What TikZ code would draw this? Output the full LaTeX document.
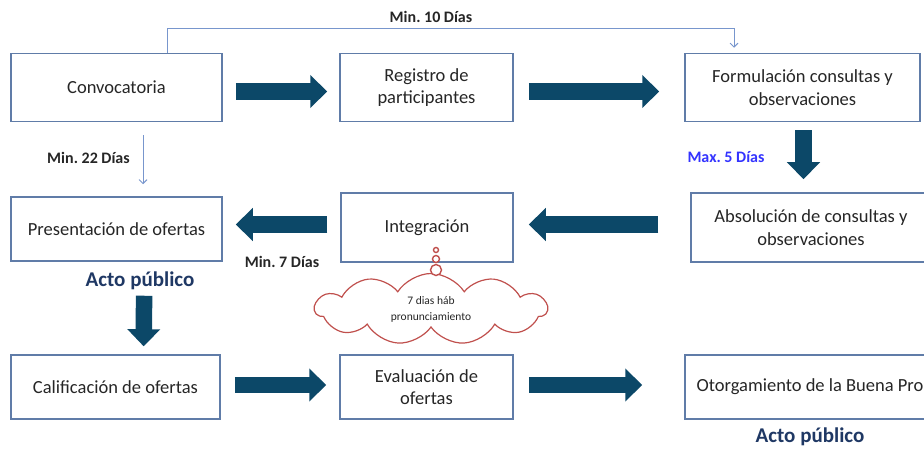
\documentclass[tikz,border=0pt]{standalone}
\usepackage{fontspec}
\setmainfont{Carlito}
\usetikzlibrary{arrows.meta,shapes.symbols,calc}
\definecolor{boxline}{RGB}{96,124,168}
\definecolor{bigarr}{RGB}{12,72,104}
\definecolor{thinarr}{RGB}{120,150,205}
\definecolor{cloudred}{RGB}{192,80,77}
\definecolor{txt}{RGB}{38,38,38}
\definecolor{navy}{RGB}{31,56,100}
\definecolor{maxblue}{RGB}{51,51,255}
\begin{document}
\frenchspacing
\begin{tikzpicture}[x=1pt,y=-1pt,
  box/.style={draw=boxline, line width=1.5pt, fill=white, align=center, text=txt,
    font=\fontsize{18.5}{22.5}\selectfont, inner sep=0pt},
  bigarrow/.style={draw=bigarr, line width=16.5pt, -{Triangle[length=17pt,width=32pt]}},
  thinarrow/.style={draw=thinarr, line width=0.9pt, -{Straight Barb[length=4pt,width=8pt]}},
  lbl/.style={font=\fontsize{16}{19}\selectfont\bfseries, text=txt, inner sep=0pt},
  acto/.style={font=\fontsize{21}{25}\selectfont\bfseries, text=navy, inner sep=0pt},
  bubble/.style={circle, draw=cloudred, line width=1.4pt, fill=white, inner sep=0pt}
]
\useasboundingbox (0,0) rectangle (924,449);
\clip (0,0) rectangle (924,449);

% boxes
\node[box, minimum width=211pt, minimum height=68pt] (conv) at (116.5,87.5) {Convocatoria};
\node[box, minimum width=173pt, minimum height=68pt] (reg) at (426.5,87.5) {Registro de\\participantes};
\node[box, minimum width=235pt, minimum height=68pt] (form) at (802.5,87.5) {Formulación consultas y\\observaciones};
\node[box, minimum width=172pt, minimum height=69pt] (integ) at (427,227.5) {Integración};
\node[box, minimum width=240pt, minimum height=69pt] (abs) at (811,227.5) {Absolución de consultas y\\observaciones};
\node[box, minimum width=250pt, minimum height=64pt] (oto) at (810,387) {Otorgamiento de la Buena Pro};
\node[box, minimum width=211pt, minimum height=64pt] (pres) at (116.5,229) {Presentación de ofertas};
\node[box, minimum width=209pt, minimum height=64pt] (cal) at (115.5,387) {Calificación de ofertas};
\node[box, minimum width=173pt, minimum height=64pt] (eval) at (426.5,387) {Evaluación de\\ofertas};

% big arrows
\draw[bigarrow, shorten <=13pt, shorten >=12pt] ([yshift=-4pt]conv.east) -- ([yshift=-4pt]reg.west);
\draw[bigarrow, shorten <=15pt, shorten >=25pt] ([yshift=-4pt]reg.east) -- ([yshift=-4pt]form.west);
\draw[bigarrow, shorten <=8pt, shorten >=13pt] ([xshift=1pt]form.south) -- ([xshift=1pt]form.south |- abs.north);
\draw[bigarrow, shorten <=32pt, shorten >=15pt] ([yshift=3pt]abs.west) -- ([yshift=3pt]integ.east);
\draw[bigarrow, shorten <=13pt, shorten >=13pt] ([yshift=3pt]integ.west) -- ([yshift=3pt]integ.west -| pres.east);
\draw[bigarrow, shorten <=34pt, shorten >=8pt] ([xshift=28pt]pres.south) -- ([xshift=28pt]cal.north);
\draw[bigarrow, shorten <=14pt, shorten >=13pt] ([yshift=2pt]cal.east) -- ([yshift=2pt]eval.west);
\draw[bigarrow, shorten <=15pt, shorten >=42pt] ([yshift=2pt]eval.east) -- ([yshift=2pt]oto.west);

% thin arrows
\draw[thinarrow, shorten <=13pt, shorten >=12pt] ([xshift=26.5pt]conv.south) -- ([xshift=26.5pt]pres.north);
\draw[thinarrow, shorten >=5pt] ([xshift=50.5pt]conv.north) |- ($(form.north)+(-68.5,-24)$) -- ([xshift=-68.5pt]form.north);

% labels
\node[lbl] (l10) at (431,17) {Min. 10 Días};
\node[lbl] (l22) at (88.5,158) {Min. 22 Días};
\node[lbl, text=maxblue] (l5) at (726,157) {Max. 5 Días};
\node[lbl] (l7) at (282,262) {Min. 7 Días};
\node[acto] (acto1) at (140,281) {Acto público};
\node[acto] (acto2) at (810,437) {Acto público};

% cloud callout
\node[cloud, cloud ignores aspect, draw=cloudred, line width=1.2pt, fill=white, cloud puffs=11, cloud puff arc=115,
  minimum width=232pt, minimum height=71pt, inner sep=0pt, align=center,
  font=\fontsize{11.5}{16}\selectfont, text=txt] (cloud) at (431,309) {7 dias háb\\pronunciamiento};
\node[bubble, minimum size=5pt] (b1) at (436,250) {};
\node[bubble, minimum size=7pt] (b2) at (436,259) {};
\node[bubble, minimum size=11pt] (b3) at (436,270) {};
\end{tikzpicture}
\end{document}
